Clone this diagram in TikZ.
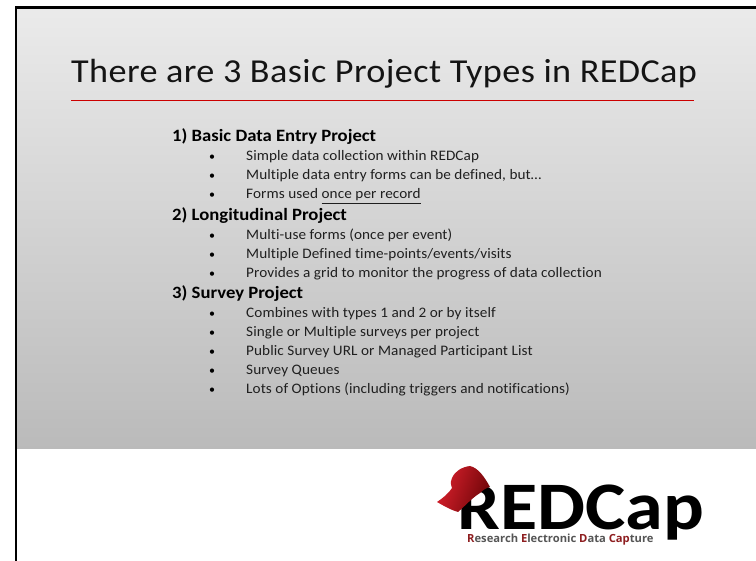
\documentclass[tikz,border=0pt]{standalone}
\usepackage{fontspec}
\setmainfont{Carlito}
\newfontfamily\logofont[FakeStretch=1.12,Ligatures=NoCommon]{Carlito}
\newfontfamily\subfont{Open Sans}
\newfontfamily\spaced[FakeStretch=1.05,LetterSpace=0.6,Ligatures=NoCommon]{Carlito}
\newfontfamily\titlefont[FakeStretch=1.08,LetterSpace=1.2,Ligatures=NoCommon]{Carlito}
\newfontfamily\headfont[FakeStretch=1.08,Ligatures=NoCommon]{Carlito}
\definecolor{capred}{HTML}{D8202C}
\definecolor{capdark}{HTML}{6E0508}
\definecolor{subred}{HTML}{8E1E20}
\definecolor{subgray}{HTML}{555555}
\tikzset{
  head/.style={anchor=base west,inner sep=0pt,font=\headfont\fontsize{17.3}{18}\selectfont\bfseries,text=black},
  item/.style={anchor=base west,inner sep=0pt,font=\spaced\fontsize{14.5}{15}\selectfont,text=black!88},
  bullet/.style={anchor=base west,inner sep=0pt,font=\fontsize{12}{12}\selectfont,text=black},
}
\newcommand{\entry}[2]{%
  \node[bullet] (b#1) at (209,#1) {•};
  \node[item] (t#1) at (246,#1) {#2};}
\begin{document}
\begin{tikzpicture}[x=1pt,y=-1pt]
\useasboundingbox (0,0) rectangle (756,561);
\fill[white] (0,0) rectangle (756,561);
\shade[top color=black!8,bottom color=black!27] (17,8) rectangle (756,449);
\draw[black,line width=2.4pt] (16,561) -- (16,7.5) -- (756,7.5);
\node[anchor=base west,inner sep=0pt,font=\titlefont\fontsize{33.5}{36}\selectfont,text=black!92] (title) at (71,82.5) {There are 3 Basic Project Types in REDCap};
\coordinate (ruleL) at (71,100.3);
\coordinate (ruleR) at (694,100.3);
\draw[red!80!black,line width=0.8pt] (ruleL) -- (ruleR);
\node[head] (h1) at (172,141.7) {1) Basic Data Entry Project};
\entry{161}{Simple data collection within REDCap}
\entry{180}{Multiple data entry forms can be defined, but…}
\entry{199}{Forms used \underline{once per record}}
\node[head] (h2) at (172,220.7) {2) Longitudinal Project};
\entry{240}{Multi-use forms (once per event)}
\entry{259}{Multiple Defined time-points/events/visits}
\entry{277.5}{Provides a grid to monitor the progress of data collection}
\node[head] (h3) at (172,299) {3) Survey Project};
\entry{318}{Combines with types 1 and 2 or by itself}
\entry{337}{Single or Multiple surveys per project}
\entry{356}{Public Survey URL or Managed Participant List}
\entry{375}{Survey Queues}
\entry{394}{Lots of Options (including triggers and notifications)}
% logo
\node[anchor=base west,inner sep=0pt,font=\logofont\fontsize{68}{68}\selectfont\bfseries,text=black] (logo) at (457,530) {REDCap};
\node[anchor=base west,inner sep=0pt,font=\subfont\fontsize{11.2}{12}\selectfont\bfseries,text=subgray] (sub) at (467,542.5) {\textcolor{subred}{R}esearch \textcolor{subred}{E}lectronic \textcolor{subred}{D}ata \textcolor{subred}{Cap}ture};
\shade[left color=capred,right color=capdark,shading angle=70]
  (437,502) .. controls (443,498) and (449,493) .. (452,488)
  .. controls (450,483) and (451,480) .. (452,478)
  .. controls (455,471) and (462,467) .. (470,466)
  .. controls (478,468) and (484,476) .. (490,487)
  .. controls (486,488) and (483,490) .. (480,493)
  .. controls (472,498) and (466,505) .. (458,512)
  .. controls (451,510) and (444,506) .. (437,502) -- cycle;
\end{tikzpicture}
\end{document}
